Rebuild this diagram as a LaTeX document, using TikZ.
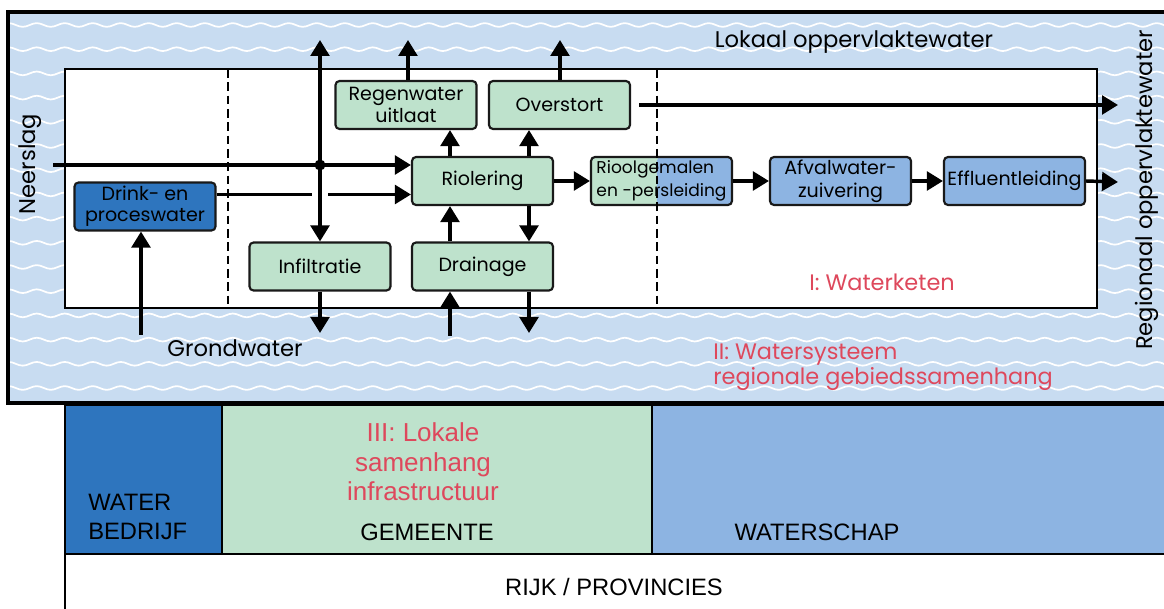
\documentclass[tikz,border=0pt]{standalone}
\usepackage{fontspec}
\setmainfont{Poppins}
\newfontfamily\arialf{Liberation Sans}
\usetikzlibrary{arrows.meta,decorations.pathmorphing,calc}
\definecolor{bgblue}{RGB}{200,220,241}
\definecolor{boxgreen}{RGB}{190,226,204}
\definecolor{darkblue}{RGB}{46,117,190}
\definecolor{midblue}{RGB}{141,180,226}
\definecolor{redtxt}{RGB}{222,72,92}
\definecolor{edge}{RGB}{25,25,25}
\tikzset{
  box/.style={draw=edge, line width=1.6pt, rounded corners=3pt, minimum width=105.75pt,
    minimum height=36pt, inner sep=0pt, align=center, font=\fontsize{14.3}{17}\selectfont},
  gbox/.style={box, fill=boxgreen},
  bbox/.style={box, fill=midblue},
  arr/.style={line width=2.6pt, -{Triangle[width=14pt,length=12pt]}},
  wave/.style={white, line width=1.3pt, decorate,
    decoration={snake, amplitude=1.4pt, segment length=21pt}},
  dline/.style={line width=1.7pt, dash pattern=on 6.5pt off 3.5pt},
  lbl/.style={inner sep=0pt, font=\fontsize{17}{19}\selectfont},
  redlbl/.style={inner sep=0pt, text=redtxt, font=\fontsize{16.8}{19}\selectfont},
  btxt/.style={inner sep=0pt, font=\arialf\fontsize{17.8}{21.75}\selectfont},
  redb/.style={inner sep=0pt, text=redtxt, align=center, font=\arialf\fontsize{19.5}{22}\selectfont},
  region/.style={draw=black, line width=1.8pt}
}
\begin{document}
\begin{tikzpicture}[x=0.75pt, y=-0.75pt]
\clip (0,0) rectangle (1164,609);
\fill[white] (0,0) rectangle (1164,609);
% water system background
\fill[bgblue] (8,12) rectangle (1175,403);
\begin{scope}
  \clip (8,12) rectangle (1175,403);
  \foreach \yy in {25,49.2,...,400} {
    \draw[wave] (0,\yy) -- (1180,\yy);
  }
\end{scope}
\draw[line width=2.6pt] (1175,12) -- (8,12) -- (8,403) -- (1175,403);
% water chain box
\draw[fill=white, line width=1.6pt] (65,69) rectangle (1097,308);

% bottom regions
\draw[region, fill=darkblue] (65,405) rectangle (222,554);
\draw[region, fill=boxgreen] (222,405) rectangle (652,554);
\draw[region, fill=midblue] (652,405) rectangle (1175,554);
\draw[region, fill=white] (65,554) rectangle (1175,620);

% nodes
\node[box, fill=darkblue, font=\fontsize{14.3}{15.5}\selectfont] (drink) at (145,206.5) {Drink- en\\proceswater};
\node[gbox] (infil) at (320,266.5) {Infiltratie};
\node[gbox] (regen) at (406,105) {Regenwater\\uitlaat};
\node[gbox] (over) at (559.5,105) {Overstort};
\node[gbox] (riol) at (482.5,181) {Riolering};
\node[gbox] (drain) at (482.5,266.5) {Drainage};
\node[gbox, align=left, font=\fontsize{12.8}{17}\selectfont, path picture={
   \fill[midblue] ([xshift=-3.4pt]path picture bounding box.north) rectangle (path picture bounding box.south east);}]
   (rg) at (661.5,181) {Rioolgemalen\\en -persleiding};
\node[bbox] (afv) at (840.5,181) {Afvalwater-\\zuivering};
\node[bbox] (eff) at (1014.5,181) {Effluentleiding};

% helper coordinates
\coordinate (xA) at (450,0);
\coordinate (xB) at (529,0);
\coordinate (dot) at (320,165);
\coordinate (topv) at (320,40);
\coordinate (nstart) at (53,165);
\coordinate (regtop) at (408,40);
\coordinate (overtop) at (560,40);
\coordinate (outR1) at (1118,105);
\coordinate (outR2) at (1118,182);
\coordinate (gwup) at (141,335);
\coordinate (infdown) at (320,333);
\coordinate (drup) at (450,336);
\coordinate (drdown) at (529,333);
\coordinate (dk) at ([yshift=9pt]drink.east);

% connectors
\draw[arr] (nstart) -- (nstart -| riol.west);
\draw[arr] (dk) -- (dk -| riol.west);
\fill[white] (312,187) rectangle (328,201);
\draw[arr] (dot) -- (topv);
\draw[arr] (dot) -- (infil.north);
\fill (dot) circle (5.5);
\draw[arr] (gwup) -- (gwup |- drink.south);
\draw[arr] (infil.south) -- (infdown);
\draw[arr] (regen.north -| regtop) -- (regtop);
\draw[arr] (over.north -| overtop) -- (overtop);
\draw[arr] (riol.north -| xA) -- (regen.south -| xA);
\draw[arr] (riol.north -| xB) -- (over.south -| xB);
\draw[arr] (drain.north -| xA) -- (riol.south -| xA);
\draw[arr] (riol.south -| xB) -- (drain.north -| xB);
\draw[arr] (drup) -- (drain.south -| xA);
\draw[arr] (drain.south -| xB) -- (drdown);
\draw[arr] ([xshift=6pt]over.east) -- (outR1);
\draw[arr] (riol.east) -- (rg.west);
\draw[arr] (rg.east) -- (afv.west);
\draw[arr] (afv.east) -- (eff.west);
\draw[arr] (eff.east) -- (outR2);

% dashed separators
\draw[dline] (228,69) -- (228,308);
\draw[dline] (657,69) -- (657,308);

% labels
\node[lbl, rotate=90] (neerslag) at (30,164) {Neerslag};
\node[lbl] (lokaal) at (854,42) {Lokaal oppervlaktewater};
\node[lbl, rotate=90] (regio) at (1147,190) {Regionaal oppervlaktewater};
\node[lbl] (grond) at (235,348) {Grondwater};
\node[redlbl] (wk) at (882,282) {I: Waterketen};
\node[redlbl, align=left, anchor=west] (wsys) at (713,367) {II: Watersysteem\\regionale gebiedssamenhang};

\node[btxt, align=left, anchor=west] (wb) at (88,517) {WATER\\BEDRIJF};
\node[redb] (lok) at (423,462) {III: Lokale\\samenhang\\infrastructuur};
\node[btxt] (gem) at (427,532) {GEMEENTE};
\node[btxt] (wsch) at (817,532) {WATERSCHAP};
\node[btxt] (rijk) at (614,587) {RIJK / PROVINCIES};
\end{tikzpicture}
\end{document}
